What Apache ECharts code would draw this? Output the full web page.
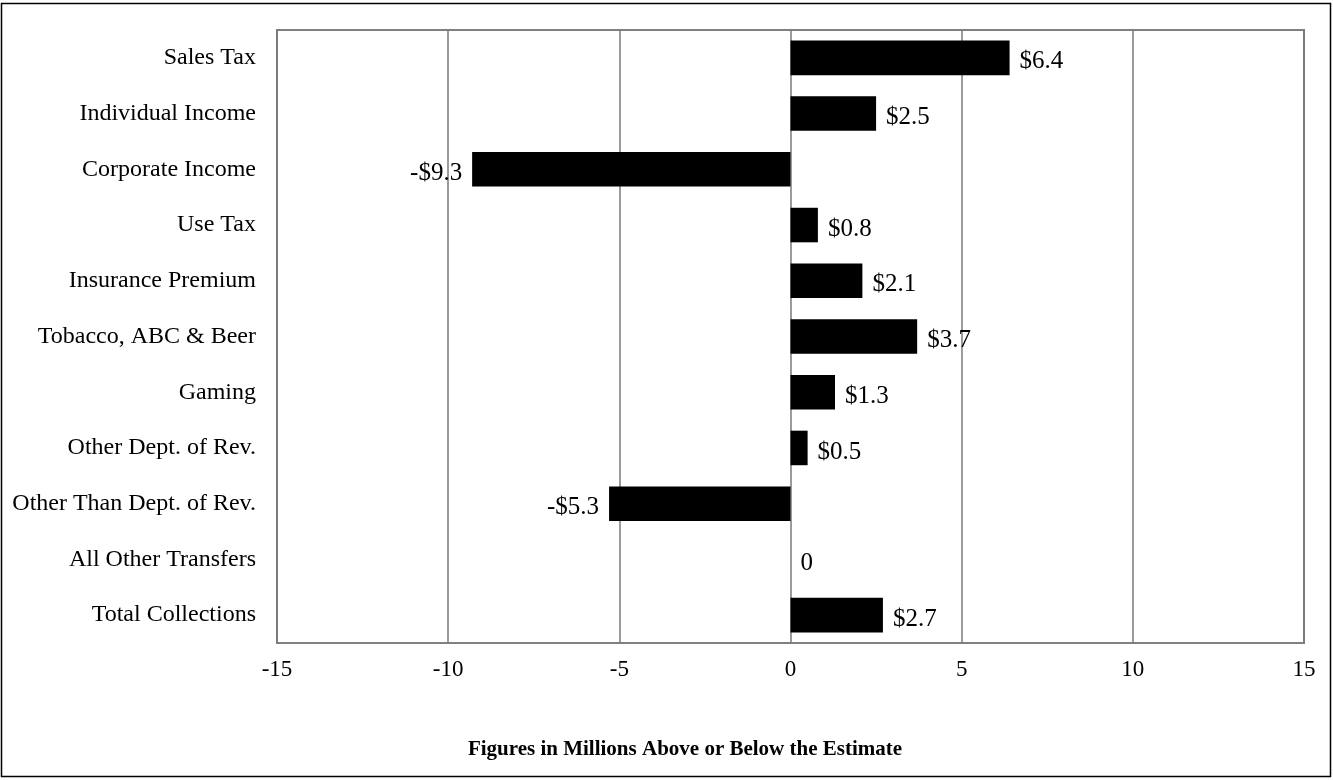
<!DOCTYPE html>
<html>
<head>
<meta charset="utf-8">
<script src="https://cdn.jsdelivr.net/npm/echarts@6/dist/echarts.min.js"></script>
<style>
html,body{margin:0;padding:0;background:#fff;}
#chart{width:1333px;height:780px;}
</style>
</head>
<body>
<div id="chart"></div>
<script>
const categories = ["Sales Tax","Individual Income","Corporate Income","Use Tax","Insurance Premium","Tobacco, ABC & Beer","Gaming","Other Dept. of Rev.","Other Than Dept. of Rev.","All Other Transfers","Total Collections"];
const values = [6.4, 2.5, -9.3, 0.8, 2.1, 3.7, 1.3, 0.5, -5.3, 0, 2.7];
const xTicks = [-15, -10, -5, 0, 5, 10, 15];
const axisTitle = "Figures in Millions Above or Below the Estimate";

const serif = '"Liberation Serif","Times New Roman",serif';
const chart = echarts.init(document.getElementById('chart'));

function fmt(v){
  if (v === 0) return '0';
  return (v < 0 ? '-$' : '$') + Math.abs(v).toFixed(1);
}

chart.setOption({
  animation:false,
  backgroundColor:'#fff',
  grid:{left:277, right:29, top:30, bottom:137, show:true, borderColor:'#808080', borderWidth:2, containLabel:false},
  xAxis:{
    type:'value', min:xTicks[0], max:xTicks[xTicks.length-1], interval:5,
    axisLine:{show:false}, axisTick:{show:false},
    splitLine:{show:true, lineStyle:{color:'#7a7a7a', width:1.5}},
    axisLabel:{fontFamily:serif, fontSize:23, color:'#000', margin:15,
      formatter:function(v){return xTicks.indexOf(v)>=0 ? String(v) : '';}}
  },
  yAxis:{
    type:'category', data:categories, inverse:true,
    axisLine:{show:false}, axisTick:{show:false}, splitLine:{show:false},
    axisLabel:{fontFamily:serif, fontSize:24, color:'#000', margin:21}
  },
  series:[{
    type:'bar', barCategoryGap:'38%',
    data:values.map(function(v){
      return v < 0 ? {value:v, label:{position:'left'}} : v;
    }),
    itemStyle:{color:'#000'},
    label:{show:true, position:'right', distance:10, offset:[0,4], fontFamily:serif, fontSize:25, color:'#000',
      formatter:function(p){return fmt(p.value);}}
  }],
  graphic:[
    {type:'rect', shape:{x:1.5, y:3.5, width:1329, height:773}, style:{fill:'none', stroke:'#000', lineWidth:1.5}, silent:true, z:100},
    {type:'text', x:685, y:750, style:{text:axisTitle, fontFamily:serif, fontSize:21, fontWeight:'bold', fill:'#000', textAlign:'center', textVerticalAlign:'middle'}}
  ]
});
</script>
</body>
</html>
